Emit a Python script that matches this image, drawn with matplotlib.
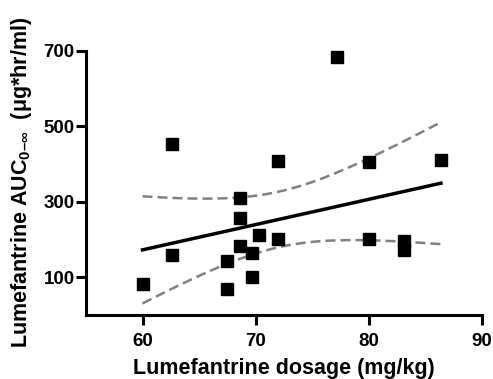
import matplotlib
matplotlib.use('Agg')
import matplotlib.pyplot as plt
import numpy as np

plt.rcParams['font.family'] = ['Liberation Sans', 'DejaVu Sans']
plt.rcParams['font.weight'] = 'bold'
plt.rcParams['mathtext.fontset'] = 'custom'
plt.rcParams['mathtext.rm'] = 'Liberation Sans:bold'
plt.rcParams['mathtext.it'] = 'Liberation Sans:bold'
plt.rcParams['mathtext.bf'] = 'Liberation Sans:bold'

# dosage (mg/kg) vs AUC (ug*hr/ml)
dose = [60.0, 62.6, 62.6, 67.5, 67.5, 68.6, 68.6, 68.6, 69.7, 69.7,
        70.3, 72.0, 72.0, 77.2, 80.0, 80.0, 83.1, 83.1, 86.4]
auc = [82, 454, 160, 143, 68, 310, 258, 182, 164, 101,
       212, 408, 200, 684, 404, 202, 197, 173, 410]

x_ticks = [60, 70, 80, 90]
y_ticks = [100, 300, 500, 700]

x = np.array(dose)
y = np.array(auc)

# linear fit with 95% confidence band of the mean
n = len(x)
slope, intercept = np.polyfit(x, y, 1)
resid = y - (slope * x + intercept)
s = np.sqrt(np.sum(resid ** 2) / (n - 2))
t_crit = 2.110  # t(0.975, df=17)
xs = np.linspace(x.min(), x.max(), 200)
fit = slope * xs + intercept
se = s * np.sqrt(1.0 / n + (xs - x.mean()) ** 2 / np.sum((x - x.mean()) ** 2))

fig = plt.figure(figsize=(4.93, 3.79), dpi=100)
ax = fig.add_axes([0.1744, 0.1689, 0.8026, 0.6974])

ax.plot(xs, fit + t_crit * se, color='#808080', lw=1.8, dashes=(4.0, 2.0))
ax.plot(xs, fit - t_crit * se, color='#808080', lw=1.8, dashes=(4.0, 2.0))
ax.plot(xs, fit, color='black', lw=2.5)
ax.plot(x, y, 's', color='black', markersize=8, clip_on=False)

ax.set_xlim(55, 90)
ax.set_ylim(0, 700)
ax.set_xticks(x_ticks)
ax.set_yticks(y_ticks)

for side in ['top', 'right']:
    ax.spines[side].set_visible(False)
for side in ['left', 'bottom']:
    ax.spines[side].set_linewidth(2.2)
ax.tick_params(width=2.2, length=7, labelsize=13.5)
ax.tick_params(axis='x', pad=6)
ax.tick_params(axis='y', pad=1)
for lbl in ax.get_xticklabels() + ax.get_yticklabels():
    lbl.set_fontweight('bold')

ax.set_xlabel('Lumefantrine dosage (mg/kg)', fontsize=15.5, fontweight='bold', labelpad=6)
ax.set_ylabel('Lumefantrine AUC$_{0\u2013\\infty}$  (\u03bcg*hr/ml)', fontsize=15.5,
              fontweight='bold', labelpad=7)

fig.savefig('out.png', dpi=100)
